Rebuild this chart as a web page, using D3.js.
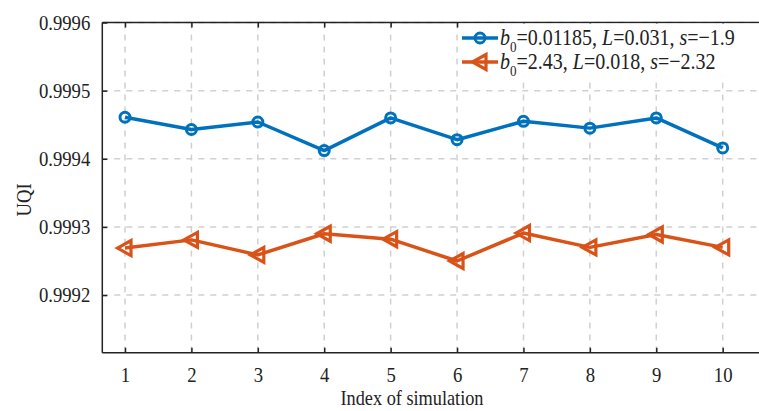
<!DOCTYPE html>
<html><head><meta charset="utf-8">
<script src="https://cdn.jsdelivr.net/npm/d3@7"></script>
<style>body{margin:0;background:#fff;} svg{display:block;font-family:"Liberation Serif","Times New Roman",serif;}</style>
</head><body>
<svg id="c" width="759" height="411"></svg>
<script>
const simIndex = [1,2,3,4,5,6,7,8,9,10];
const seriesA = [0.999461,0.999443,0.999454,0.999412,0.999460,0.999428,0.999455,0.999445,0.999460,0.999416];
const seriesB = [0.999269,0.999281,0.999259,0.999290,0.999282,0.999250,0.999291,0.999270,0.999289,0.999270];
const yTicks = [0.9992,0.9993,0.9994,0.9995,0.9996];
const xTicks = [1,2,3,4,5,6,7,8,9,10];
const legendA = {b:"0.01185", L:"0.031", s:"\u22121.9"};
const legendB = {b:"2.43", L:"0.018", s:"\u22122.32"};

(function(){
const svg = d3.select("#c");
const pL = 102.3, pT = 22.5, pB = 352.7, pR = 770;
const x = d3.scaleLinear().domain([1,10]).range([125,722.7]);
const y = d3.scaleLinear().domain([0.99911545,0.9996]).range([pB, pT]);
const blue = "#0072BD", red = "#D95319";
const SX = 0.87;
function condense(sel){
  sel.each(function(){
    const el = d3.select(this);
    const bx = +(el.attr("x")||0), by = +(el.attr("y")||0);
    const prev = el.attr("transform")||"";
    el.attr("transform", `${prev} translate(${bx},${by}) scale(${SX},1) translate(${-bx},${-by})`);
  });
}

const g = svg.append("g");
g.selectAll(".vg").data(xTicks).enter().append("line")
  .attr("x1", d=>x(d)).attr("x2", d=>x(d)).attr("y1", pT).attr("y2", pB)
  .attr("stroke","#d0d0d0").attr("stroke-width",1.5).attr("stroke-dasharray","6,6");
g.selectAll(".hg").data(yTicks).enter().append("line")
  .attr("x1", pL).attr("x2", pR).attr("y1", d=>y(d)).attr("y2", d=>y(d))
  .attr("stroke","#d0d0d0").attr("stroke-width",1.5).attr("stroke-dasharray","6,6");

const xAxis = d3.axisBottom(x).tickValues(xTicks).tickSize(-5).tickPadding(14).tickFormat(d3.format("d"));
const xAx = svg.append("g").attr("transform",`translate(0,${pB})`).call(xAxis);
const xTop = d3.axisTop(x).tickValues(xTicks).tickSize(-5).tickFormat("");
const xTopAx = svg.append("g").attr("transform",`translate(0,${pT})`).call(xTop);
const yAxis = d3.axisLeft(y).tickValues(yTicks).tickSize(-5).tickPadding(12).tickFormat(d3.format(".4f"));
const yAx = svg.append("g").attr("transform",`translate(${pL},0)`).call(yAxis);
[xAx,xTopAx,yAx].forEach(a=>{
  a.select(".domain").remove();
  a.selectAll(".tick line").attr("stroke","#222").attr("stroke-width",1.5);
  a.selectAll("text").attr("font-family","Liberation Serif").attr("font-size",21.5).attr("fill","#222");
});
condense(xAx.selectAll("text"));
condense(yAx.selectAll("text"));
svg.append("line").attr("x1",pL).attr("x2",pR).attr("y1",pB).attr("y2",pB).attr("stroke","#222").attr("stroke-width",1.5);
svg.append("line").attr("x1",pL).attr("x2",pR).attr("y1",pT).attr("y2",pT).attr("stroke","#222").attr("stroke-width",1.5);
svg.append("line").attr("x1",pL).attr("x2",pL).attr("y1",pT).attr("y2",pB).attr("stroke","#222").attr("stroke-width",1.5);

const xl = svg.append("text").attr("x",412).attr("y",405).attr("text-anchor","middle")
  .attr("font-size",21).attr("fill","#222").text("Index of simulation");
condense(xl);
svg.append("text").attr("transform",`translate(31,200) rotate(-90) scale(${SX},1)`).attr("text-anchor","middle")
  .attr("font-size",21.5).attr("fill","#222").text("UQI");

const line = d3.line().x((d,i)=>x(simIndex[i])).y(d=>y(d));
svg.append("path").datum(seriesA).attr("d",line).attr("fill","none").attr("stroke",blue).attr("stroke-width",3.5).attr("stroke-linejoin","round");
svg.append("path").datum(seriesB).attr("d",line).attr("fill","none").attr("stroke",red).attr("stroke-width",3.5).attr("stroke-linejoin","round");

function circle(sel, cx, cy){
  sel.append("circle").attr("cx",cx).attr("cy",cy).attr("r",5).attr("fill","none").attr("stroke",blue).attr("stroke-width",3);
}
function tri(sel, cx, cy){
  const s = 7.5;
  sel.append("path").attr("d",`M${cx-s},${cy} L${cx+s*0.8},${cy-s} L${cx+s*0.8},${cy+s} Z`)
    .attr("fill","none").attr("stroke",red).attr("stroke-width",3.2).attr("stroke-linejoin","miter");
}
seriesA.forEach((v,i)=>circle(svg, x(simIndex[i]), y(v)));
seriesB.forEach((v,i)=>tri(svg, x(simIndex[i]), y(v)));

const lg = svg.append("g");
lg.append("rect").attr("x",459).attr("y",pT+1).attr("width",300).attr("height",53).attr("fill","#fff");
function legendRow(yy, color, isCircle, p){
  lg.append("line").attr("x1",462).attr("x2",498).attr("y1",yy).attr("y2",yy).attr("stroke",color).attr("stroke-width",3.5);
  if(isCircle) circle(lg,480,yy); else tri(lg,480,yy);
  const t = lg.append("text").attr("x",500).attr("y",yy+7).attr("font-size",23).attr("fill","#222");
  t.append("tspan").attr("font-style","italic").text("b");
  t.append("tspan").attr("font-size",15).attr("dy",7).text("0");
  t.append("tspan").attr("dy",-7).text("="+p.b+", ");
  t.append("tspan").attr("font-style","italic").text("L");
  t.append("tspan").text("="+p.L+", ");
  t.append("tspan").attr("font-style","italic").text("s");
  t.append("tspan").text("="+p.s);
  condense(t);
}
legendRow(38, blue, true, legendA);
legendRow(62, red, false, legendB);
})();
</script>
</body></html>
